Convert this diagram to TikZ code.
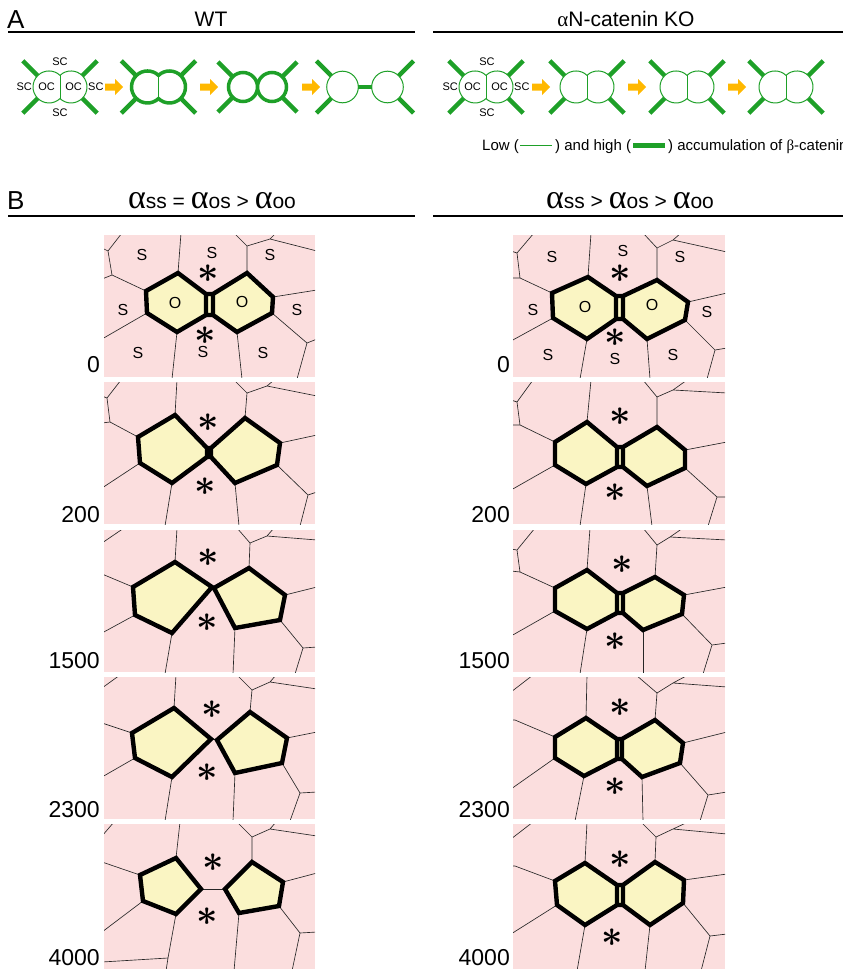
\documentclass[tikz,border=0pt]{standalone}
\usepackage{amsmath}
\usepackage{bm}
\usepackage{fontspec}
\setmainfont{Liberation Sans}
\newfontfamily\grk{Liberation Serif}
\usetikzlibrary{calc}
\definecolor{skin}{RGB}{251,222,222}
\definecolor{oyel}{RGB}{250,245,195}
\definecolor{bcat}{RGB}{30,160,40}
\definecolor{fwdorange}{RGB}{255,184,0}
\newcommand{\bigalpha}{{\fontsize{34}{34}\selectfont\grk α}}
\tikzset{
	sline/.style={line width=0.65pt, black!85},
	oline/.style={line width=4.4pt, line join=miter, black},
	ofill/.style={fill=oyel},
	slab/.style={font=\fontsize{16}{16}\selectfont, inner sep=0pt},
	star/.style={font=\fontsize{24}{24}\selectfont, inner sep=0pt, scale=1.5},
	stage/.style={font=\fontsize{23}{23}\selectfont, anchor=base east, inner sep=0pt},
	lowcat/.style={bcat, line width=1pt},
	highcat/.style={bcat, line width=4.5pt},
	sc/.style={font=\fontsize{11}{11}\selectfont, inner sep=0pt},
	head/.style={font=\fontsize{21}{21}\selectfont, anchor=base, inner sep=0pt},
	letter/.style={font=\fontsize{26}{26}\selectfont, anchor=base west, inner sep=0pt},
	legend/.style={font=\fontsize{15}{15}\selectfont, anchor=base west, inner sep=0pt},
	rule/.style={line width=1.8pt},
	fwd/.style={fill=fwdorange},
	% two round cells sharing one wall, with their junction spokes
	doublet/.pic={
		\draw (0,11.6) arc[start angle=46.6, end angle=313.4, radius=16]
			arc[start angle=226.6, end angle=493.4, radius=16] -- cycle;
		\draw[lowcat] (0,-11.6) -- (0,11.6);
		\foreach \a in {135,225} \draw[highcat] (-11,0) ++(\a:16) -- ++(\a:21);
		\foreach \a in {45,-45} \draw[highcat] (11,0) ++(\a:16) -- ++(\a:21);
	},
}
\newcommand{\junc}{$\bm{\ast}$}

\begin{document}
\begin{tikzpicture}[x=1pt,y=-1pt]
	\useasboundingbox (0,0) rectangle (843,969);

	% A: headings
	\node[letter] (hA) at (7,28) {A};
	\node[head] (hWT) at (211,27) {WT};
	\node[head] (hKO) at (626,27) {{\grk α}N-catenin KO};
	\draw[rule] (8,32) -- (415,32);
	\draw[rule] (433,32) -- (843,32);

	% WT series
	\pic[lowcat] at (60,87) {doublet};
	\pic[bcat, line width=3.5pt] at (158.5,87) {doublet};
	\draw[bcat, line width=3.5pt] (243,87) circle[radius=14.5] (272,87) circle[radius=14.5];
	\foreach \a in {135,225} \draw[highcat] (243,87) ++(\a:14.5) -- ++(\a:21);
	\foreach \a in {45,-45} \draw[highcat] (272,87) ++(\a:14.5) -- ++(\a:21);
	\draw[lowcat] (342.5,87) circle[radius=15.8] (387.5,87) circle[radius=15.8];
	\draw[highcat] (358.3,87) -- (371.7,87);
	\foreach \a in {135,225} \draw[highcat] (342.5,87) ++(\a:15.8) -- ++(\a:21);
	\foreach \a in {45,-45} \draw[highcat] (387.5,87) ++(\a:15.8) -- ++(\a:21);
	\node[sc] (wtS1) at (60,62) {SC};
	\node[sc] (wtS2) at (60,113) {SC};
	\node[sc, anchor=east] (wtS3) at (32,87) {SC};
	\node[sc, anchor=west] (wtS4) at (88,87) {SC};
	\node[sc] (wtO1) at (46.5,87) {OC};
	\node[sc] (wtO2) at (73.5,87) {OC};

	% KO series
	\foreach \cx in {486,587,687,786} \pic[lowcat] at (\cx,87) {doublet};
	\node[sc] (koS1) at (487,62) {SC};
	\node[sc] (koS2) at (487,113) {SC};
	\node[sc, anchor=east] (koS3) at (458,87) {SC};
	\node[sc, anchor=west] (koS4) at (514,87) {SC};
	\node[sc] (koO1) at (472.5,87) {OC};
	\node[sc] (koO2) at (499.5,87) {OC};

	% arrows between stages
	\foreach \x in {105,200,302,532,628,728}
		\fill[fwd] (\x,83.5) -- ++(10,0) -- ++(0,-4.5) -- ++(8,8) -- ++(-8,8) -- ++(0,-4.5) -- ++(-10,0) -- cycle;

	% legend
	\node[legend] (lg1) at (482,150) {Low (};
	\draw[lowcat] (520,145) -- (552,145);
	\node[legend] (lg2) at (555,150) {) and high (};
	\draw[bcat, line width=5pt] (633,145) -- (665,145);
	\node[legend] (lg3) at (668,150) {) accumulation of {\grk β}-catenin};

	% B: headings
	\node[letter] (hB) at (7,209) {B};
	\node[head] (tEq) at (212,208) {\bigalpha ss = \bigalpha os > \bigalpha oo};
	\node[head] (tGt) at (630,208) {\bigalpha ss > \bigalpha os > \bigalpha oo};
	\draw[rule] (8,216) -- (415,216);
	\draw[rule] (433,216) -- (843,216);

	% left column, step 0
	\begin{scope}[shift={(104,235)}]
		\clip (0,0) rectangle (211,142);
		\fill[skin] (0,0) rectangle (211,142);
		\draw[sline] (74,38) -- (77,-2);
		\draw[sline] (143,38) -- (143,11) -- (130,-2) (143,11) -- (166,4) -- (172,-2) (166,4) -- (213,16);
		\draw[sline] (169,62) -- (213,55);
		\draw[sline] (168,78) -- (203,108) -- (213,104) (203,108) -- (193,144);
		\draw[sline] (133,97) -- (138,144);
		\draw[sline] (73,97) -- (68,144);
		\draw[sline] (43,78) -- (-2,104);
		\draw[sline] (42,56) -- (8,40) -- (-2,44) (8,40) -- (4,16) -- (18,-2) (4,16) -- (-2,13);
		\fill[ofill] (74,38) -- (42,56) -- (43,78) -- (73,97) -- (102,80) -- (102,59) -- cycle
			(109,59) -- (143,38) -- (169,62) -- (168,78) -- (133,97) -- (109,80) -- cycle
			(102,59) rectangle (109,80);
		\draw[oline] (74,38) -- (42,56) -- (43,78) -- (73,97) -- (102,80) -- (102,59) -- cycle
			(109,59) -- (143,38) -- (169,62) -- (168,78) -- (133,97) -- (109,80) -- cycle
			(102,59) rectangle (109,80);
		\node[slab] (l0s1) at (38,20) {S};
		\node[slab] (l0s2) at (108,18) {S};
		\node[slab] (l0s3) at (166,20) {S};
		\node[slab] (l0s4) at (19,75) {S};
		\node[slab] (l0s5) at (193,75) {S};
		\node[slab] (l0s6) at (34,118) {S};
		\node[slab] (l0s7) at (99,117) {S};
		\node[slab] (l0s8) at (159,118) {S};
		\node[slab] (l0o1) at (71,68) {O};
		\node[slab] (l0o2) at (138,67) {O};
		\node[star] (l0a) at (104,39) {\junc};
		\node[star] (l0b) at (101,101) {\junc};
	\end{scope}
	\node[stage] (t0l) at (100,372) {0};

	% left column, step 200
	\begin{scope}[shift={(104,382)}]
		\clip (0,0) rectangle (211,142);
		\fill[skin] (0,0) rectangle (211,142);
		\draw[sline] (71,33) -- (73,-2);
		\draw[sline] (141,36) -- (143,11) -- (130,-2) (143,11) -- (163,4) -- (170,-2) (163,4) -- (213,14);
		\draw[sline] (176,61) -- (213,53);
		\draw[sline] (173,83) -- (204,113) -- (213,110) (204,113) -- (196,144);
		\draw[sline] (131,101) -- (135,144);
		\draw[sline] (68,101) -- (61,144);
		\draw[sline] (36,81) -- (-2,106);
		\draw[sline] (34,55) -- (6,40) -- (-2,41) (6,40) -- (3,16) -- (17,-2) (3,16) -- (-2,14);
		\fill[ofill] (71,33) -- (34,55) -- (36,81) -- (68,101) -- (103,75) -- (103,66) -- cycle
			(107,66) -- (141,36) -- (176,61) -- (173,83) -- (131,101) -- (107,75) -- cycle;
		\draw[oline] (71,33) -- (34,55) -- (36,81) -- (68,101) -- (103,75) -- (103,66) -- cycle
			(107,66) -- (141,36) -- (176,61) -- (173,83) -- (131,101) -- (107,75) -- cycle
			(103,66) rectangle (107,75);
		\node[star] (l1a) at (104,41) {\junc};
		\node[star] (l1b) at (101,105) {\junc};
	\end{scope}
	\node[stage] (t1l) at (100,522) {200};

	% left column, step 1500
	\begin{scope}[shift={(104,530)}]
		\clip (0,0) rectangle (211,142);
		\fill[skin] (0,0) rectangle (211,142);
		\draw[sline] (71,32) -- (73,-2);
		\draw[sline] (145,38) -- (146,13) -- (133,-2) (146,13) -- (163,6) -- (170,-2) (163,6) -- (213,10);
		\draw[sline] (181,65) -- (213,57);
		\draw[sline] (176,90) -- (199,118) -- (213,117) (199,118) -- (191,144);
		\draw[sline] (131,98) -- (129,144);
		\draw[sline] (68,103) -- (61,144);
		\draw[sline] (31,85) -- (-2,103);
		\draw[sline] (29,57) -- (-2,44);
		\draw[sline] (-2,13) -- (20,-2);
		\fill[ofill] (71,32) -- (29,57) -- (31,85) -- (68,103) -- (108,57) -- cycle
			(110,58) -- (145,38) -- (181,65) -- (176,90) -- (131,98) -- cycle;
		\draw[oline] (71,32) -- (29,57) -- (31,85) -- (68,103) -- (108,57) -- cycle
			(110,58) -- (145,38) -- (181,65) -- (176,90) -- (131,98) -- cycle;
		\node[star] (l2a) at (104,28) {\junc};
		\node[star] (l2b) at (103,93) {\junc};
	\end{scope}
	\node[stage] (t2l) at (100,668) {1500};

	% left column, step 2300
	\begin{scope}[shift={(104,677)}]
		\clip (0,0) rectangle (211,142);
		\fill[skin] (0,0) rectangle (211,142);
		\draw[sline] (70,31) -- (72,-2);
		\draw[sline] (146,35) -- (148,13) -- (133,-2) (148,13) -- (166,5) -- (172,-2) (166,5) -- (213,12);
		\draw[sline] (183,61) -- (213,55);
		\draw[sline] (178,86) -- (196,116) -- (213,115) (196,116) -- (186,144);
		\draw[sline] (131,96) -- (129,144);
		\draw[sline] (68,100) -- (61,144);
		\draw[sline] (31,81) -- (-2,100);
		\draw[sline] (28,56) -- (-2,46);
		\draw[sline] (-2,11) -- (16,-2);
		\draw[sline] (107,62) -- (113,63);
		\fill[ofill] (70,31) -- (28,56) -- (31,81) -- (68,100) -- (107,62) -- cycle
			(113,63) -- (146,35) -- (183,61) -- (178,86) -- (131,96) -- cycle;
		\draw[oline] (70,31) -- (28,56) -- (31,81) -- (68,100) -- (107,62) -- cycle
			(113,63) -- (146,35) -- (183,61) -- (178,86) -- (131,96) -- cycle;
		\node[star] (l3a) at (108,33) {\junc};
		\node[star] (l3b) at (103,96) {\junc};
	\end{scope}
	\node[stage] (t3l) at (100,817) {2300};

	% left column, step 4000
	\begin{scope}[shift={(104,824)}]
		\clip (0,0) rectangle (211,145);
		\fill[skin] (0,0) rectangle (211,145);
		\draw[sline] (72,34) -- (76,-2);
		\draw[sline] (148,38) -- (148,13) -- (133,-2) (148,13) -- (166,5) -- (172,-2) (166,5) -- (213,12);
		\draw[sline] (179,58) -- (213,49);
		\draw[sline] (175,82) -- (196,109) -- (213,108) (196,109) -- (188,147);
		\draw[sline] (135,89) -- (130,147);
		\draw[sline] (72,90) -- (64,134) -- (62,147) (64,134) -- (-2,138);
		\draw[sline] (39,77) -- (-2,108);
		\draw[sline] (36,51) -- (-2,38);
		\draw[sline] (-2,12) -- (10,-2);
		\draw[sline] (97,65) -- (121,65);
		\fill[ofill] (72,34) -- (36,51) -- (39,77) -- (72,90) -- (97,65) -- cycle
			(121,65) -- (148,38) -- (179,58) -- (175,82) -- (135,89) -- cycle;
		\draw[oline] (72,34) -- (36,51) -- (39,77) -- (72,90) -- (97,65) -- cycle
			(121,65) -- (148,38) -- (179,58) -- (175,82) -- (135,89) -- cycle;
		\node[star] (l4a) at (109,39) {\junc};
		\node[star] (l4b) at (103,93) {\junc};
	\end{scope}
	\node[stage] (t4l) at (100,965) {4000};

	% right column, step 0
	\begin{scope}[shift={(513,235)}]
		\clip (0,0) rectangle (212,142);
		\fill[skin] (0,0) rectangle (212,142);
		\draw[sline] (75,42) -- (78,-2);
		\draw[sline] (144,45) -- (144,13) -- (130,-2) (144,13) -- (160,5) -- (168,-2) (160,5) -- (214,17);
		\draw[sline] (175,67) -- (214,58);
		\draw[sline] (172,85) -- (202,115) -- (214,113) (202,115) -- (194,144);
		\draw[sline] (134,104) -- (137,144);
		\draw[sline] (74,104) -- (67,144);
		\draw[sline] (40,83) -- (-2,106);
		\draw[sline] (39,58) -- (7,43) -- (-2,43) (7,43) -- (4,18) -- (21,-2) (4,18) -- (-2,16);
		\fill[ofill] (75,42) -- (39,58) -- (40,83) -- (74,104) -- (103,84) -- (103,61) -- cycle
			(110,61) -- (144,45) -- (175,67) -- (172,85) -- (134,104) -- (110,84) -- cycle
			(103,61) rectangle (110,84);
		\draw[oline] (75,42) -- (39,58) -- (40,83) -- (74,104) -- (103,84) -- (103,61) -- cycle
			(110,61) -- (144,45) -- (175,67) -- (172,85) -- (134,104) -- (110,84) -- cycle
			(103,61) rectangle (110,84);
		\node[slab] (r0s1) at (39,22) {S};
		\node[slab] (r0s2) at (110,16) {S};
		\node[slab] (r0s3) at (167,22) {S};
		\node[slab] (r0s4) at (20,75) {S};
		\node[slab] (r0s5) at (194,77) {S};
		\node[slab] (r0s6) at (35,120) {S};
		\node[slab] (r0s7) at (102,124) {S};
		\node[slab] (r0s8) at (160,120) {S};
		\node[slab] (r0o1) at (72,72) {O};
		\node[slab] (r0o2) at (139,70) {O};
		\node[star] (r0a) at (107,39) {\junc};
		\node[star] (r0b) at (102,103) {\junc};
	\end{scope}
	\node[stage] (t0r) at (510,372) {0};

	% right column, step 200
	\begin{scope}[shift={(513,382)}]
		\clip (0,0) rectangle (212,142);
		\fill[skin] (0,0) rectangle (212,142);
		\draw[sline] (74,40) -- (78,-2);
		\draw[sline] (144,45) -- (144,15) -- (130,-2) (144,15) -- (160,8) -- (174,-2) (160,8) -- (214,11);
		\draw[sline] (172,68) -- (214,60);
		\draw[sline] (172,86) -- (204,115) -- (214,115) (204,115) -- (195,144);
		\draw[sline] (134,104) -- (139,144);
		\draw[sline] (73,102) -- (67,144);
		\draw[sline] (42,83) -- (-2,108);
		\draw[sline] (42,60) -- (7,43) -- (-2,43) (7,43) -- (4,20) -- (20,-2) (4,20) -- (-2,18);
		\fill[ofill] (74,40) -- (42,60) -- (42,83) -- (73,102) -- (104,85) -- (104,65) -- cycle
			(110,65) -- (144,45) -- (172,68) -- (172,86) -- (134,104) -- (110,85) -- cycle
			(104,65) rectangle (110,85);
		\draw[oline] (74,40) -- (42,60) -- (42,83) -- (73,102) -- (104,85) -- (104,65) -- cycle
			(110,65) -- (144,45) -- (172,68) -- (172,86) -- (134,104) -- (110,85) -- cycle
			(104,65) rectangle (110,85);
		\node[star] (r1a) at (107,35) {\junc};
		\node[star] (r1b) at (102,111) {\junc};
	\end{scope}
	\node[stage] (t1r) at (510,522) {200};

	% right column, step 1500
	\begin{scope}[shift={(513,530)}]
		\clip (0,0) rectangle (212,142);
		\fill[skin] (0,0) rectangle (212,142);
		\draw[sline] (74,40) -- (77,-2);
		\draw[sline] (142,47) -- (144,15) -- (130,-2) (144,15) -- (157,7) -- (170,-2) (157,7) -- (214,10);
		\draw[sline] (171,65) -- (214,57);
		\draw[sline] (169,84) -- (199,115) -- (214,113) (199,115) -- (190,144);
		\draw[sline] (130,100) -- (130,144);
		\draw[sline] (74,99) -- (67,144);
		\draw[sline] (42,81) -- (-2,106);
		\draw[sline] (42,58) -- (7,42) -- (-2,41) (7,42) -- (4,20) -- (22,-2) (4,20) -- (-2,19);
		\fill[ofill] (74,40) -- (42,58) -- (42,81) -- (74,99) -- (104,83) -- (104,63) -- cycle
			(110,63) -- (142,47) -- (171,65) -- (169,84) -- (130,100) -- (110,83) -- cycle
			(104,63) rectangle (110,83);
		\draw[oline] (74,40) -- (42,58) -- (42,81) -- (74,99) -- (104,83) -- (104,63) -- cycle
			(110,63) -- (142,47) -- (171,65) -- (169,84) -- (130,100) -- (110,83) -- cycle
			(104,63) rectangle (110,83);
		\node[star] (r2a) at (109,35) {\junc};
		\node[star] (r2b) at (102,112) {\junc};
	\end{scope}
	\node[stage] (t2r) at (510,668) {1500};

	% right column, step 2300
	\begin{scope}[shift={(513,677)}]
		\clip (0,0) rectangle (212,142);
		\fill[skin] (0,0) rectangle (212,142);
		\draw[sline] (73,41) -- (74,-2);
		\draw[sline] (142,43) -- (144,16) -- (123,-2) (144,16) -- (160,6) -- (175,-2) (160,6) -- (214,10);
		\draw[sline] (170,66) -- (214,55);
		\draw[sline] (167,86) -- (195,118) -- (214,115) (195,118) -- (187,144);
		\draw[sline] (129,100) -- (130,144);
		\draw[sline] (71,99) -- (62,144);
		\draw[sline] (42,81) -- (-2,112);
		\draw[sline] (42,60) -- (2,43) -- (-2,43);
		\draw[sline] (-2,15) -- (20,-2);
		\fill[ofill] (73,41) -- (42,60) -- (42,81) -- (71,99) -- (104,82) -- (104,62) -- cycle
			(109,62) -- (142,43) -- (170,66) -- (167,86) -- (129,100) -- (109,82) -- cycle
			(104,62) rectangle (109,82);
		\draw[oline] (73,41) -- (42,60) -- (42,81) -- (71,99) -- (104,82) -- (104,62) -- cycle
			(109,62) -- (142,43) -- (170,66) -- (167,86) -- (129,100) -- (109,82) -- cycle
			(104,62) rectangle (109,82);
		\node[star] (r3a) at (107,31) {\junc};
		\node[star] (r3b) at (102,110) {\junc};
	\end{scope}
	\node[stage] (t3r) at (510,817) {2300};

	% right column, step 4000
	\begin{scope}[shift={(513,824)}]
		\clip (0,0) rectangle (212,145);
		\fill[skin] (0,0) rectangle (212,145);
		\draw[sline] (72,39) -- (74,-2);
		\draw[sline] (142,38) -- (143,13) -- (128,-2) (143,13) -- (160,5) -- (175,-2) (160,5) -- (214,10);
		\draw[sline] (171,56) -- (214,50);
		\draw[sline] (170,79) -- (197,112) -- (214,110) (197,112) -- (188,147);
		\draw[sline] (137,101) -- (132,147);
		\draw[sline] (72,101) -- (64,147);
		\draw[sline] (44,81) -- (-2,110);
		\draw[sline] (42,57) -- (2,42) -- (-2,42);
		\draw[sline] (-2,15) -- (20,-2);
		\fill[ofill] (72,39) -- (42,57) -- (44,81) -- (72,101) -- (104,81) -- (104,61) -- cycle
			(110,61) -- (142,38) -- (171,56) -- (170,79) -- (137,101) -- (110,81) -- cycle
			(104,61) rectangle (110,81);
		\draw[oline] (72,39) -- (42,57) -- (44,81) -- (72,101) -- (104,81) -- (104,61) -- cycle
			(110,61) -- (142,38) -- (171,56) -- (170,79) -- (137,101) -- (110,81) -- cycle
			(104,61) rectangle (110,81);
		\node[star] (r4a) at (107,36) {\junc};
		\node[star] (r4b) at (99,114) {\junc};
	\end{scope}
	\node[stage] (t4r) at (510,965) {4000};
\end{tikzpicture}
\end{document}
